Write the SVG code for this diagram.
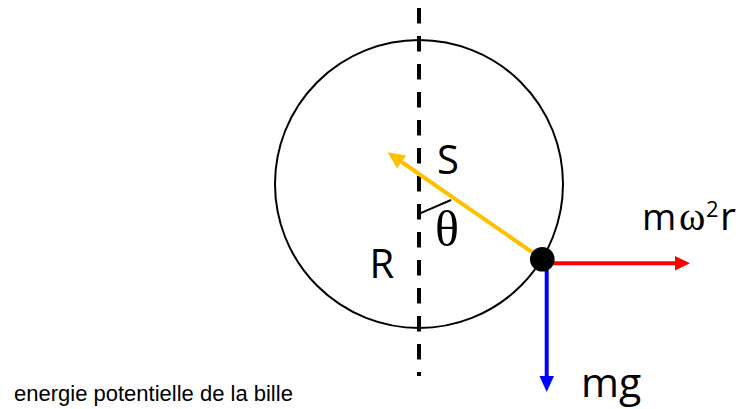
<svg xmlns="http://www.w3.org/2000/svg" width="755" height="409" viewBox="0 0 755 409">
<style>
.lbl{font-family:"Open Sans","Noto Sans",sans-serif;fill:#000}
.greek{font-family:"Liberation Serif","DejaVu Serif",serif;fill:#000}
.cap{font-family:"Liberation Sans",Arial,sans-serif;font-size:22px;fill:#000}
</style>
<rect width="755" height="409" fill="#fff"/>
<g id="circle">
<circle cx="419" cy="184" r="144" fill="none" stroke="#000" stroke-width="2"/>
</g>
<g id="axis">
<line x1="419" y1="8" x2="419" y2="376" stroke="#000" stroke-width="4" stroke-dasharray="15.5 12.5"/>
</g>
<g id="connectors">
<g id="force-S">
<line x1="542" y1="259" x2="401.7" y2="162" stroke="#FFC000" stroke-width="4"/>
<polygon points="387.7,152.3 406.2,155.4 397.1,168.6" fill="#FFC000"/>
</g>
<g id="force-centrifugal">
<line x1="542" y1="263.3" x2="676" y2="263.3" stroke="#FF0000" stroke-width="4"/>
<polygon points="675,256 690,263.3 675,270.6" fill="#FF0000"/>
</g>
<g id="force-weight">
<line x1="546.7" y1="259" x2="546.7" y2="377" stroke="#0000FF" stroke-width="4"/>
<polygon points="539.5,376 546.7,392 554,376" fill="#0000FF"/>
</g>
<line id="angle-tick" x1="420" y1="213.3" x2="451" y2="200" stroke="#000" stroke-width="2"/>
</g>
<g id="ball">
<circle cx="542.3" cy="259.3" r="12.3" fill="#000"/>
</g>
<g id="labels">
<text class="lbl" x="437" y="174" font-size="40">S</text>
<text class="lbl" x="369.5" y="278" font-size="40">R</text>
<text class="greek" x="435" y="246" font-size="50">θ</text>
<text class="lbl" x="642" y="230" font-size="37">m<tspan class="greek" x="679" font-size="40">ω</tspan><tspan x="706" font-size="22" dy="-13">2</tspan><tspan x="720" dy="13" font-size="39">r</tspan></text>
<text class="lbl" x="581" y="397" font-size="41">mg</text>
<text class="cap" x="14" y="401">energie potentielle de la bille</text>
</g>
</svg>
